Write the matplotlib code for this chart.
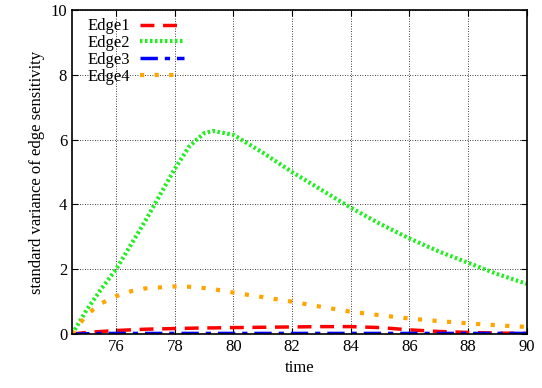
import matplotlib
matplotlib.use("Agg")
import matplotlib.pyplot as plt

plt.rcParams["font.family"] = ["Liberation Serif", "DejaVu Serif"]

# values
time = [74.5, 75, 75.5, 76, 76.5, 77, 78, 78.5, 79, 79.3, 80, 81, 82, 83, 84, 85, 86, 87, 88, 89, 90]
edge1 = [0, 0.05, 0.08, 0.11, 0.13, 0.15, 0.17, 0.18, 0.19, 0.19, 0.20, 0.21, 0.22, 0.23, 0.23, 0.20, 0.13, 0.08, 0.05, 0.03, 0.02]
edge2 = [0, 0.75, 1.4, 2.0, 2.75, 3.5, 5.1, 5.8, 6.2, 6.27, 6.15, 5.6, 5.0, 4.45, 3.9, 3.4, 2.95, 2.55, 2.2, 1.85, 1.55]
edge3 = [0, 0.01, 0.02, 0.02, 0.02, 0.02, 0.02, 0.02, 0.02, 0.02, 0.02, 0.02, 0.02, 0.02, 0.02, 0.02, 0.02, 0.02, 0.02, 0.02, 0.02]
edge4 = [0, 0.6, 0.95, 1.17, 1.32, 1.41, 1.47, 1.46, 1.42, 1.39, 1.28, 1.14, 1.0, 0.84, 0.69, 0.58, 0.48, 0.40, 0.33, 0.27, 0.22]
xticks = [76, 78, 80, 82, 84, 86, 88, 90]
yticks = [0, 2, 4, 6, 8, 10]

fig = plt.figure(figsize=(5.42, 3.88), dpi=100)
ax = fig.add_axes([0.133, 0.139, 0.839, 0.835])

ax.plot(time, edge1, color="#ff0000", lw=2.5, dashes=(4, 2.5), label="Edge1")
ax.plot(time, edge2, color="#22ee22", lw=3, dashes=(0.6, 0.6), label="Edge2")
ax.plot(time, edge3, color="#0000ff", lw=2.5, dashes=(5, 2, 1.5, 2), label="Edge3")
ax.plot(time, edge4, color="#ffa500", lw=3, dashes=(1, 2.5), label="Edge4")

ax.set_xlim(74.5, 90)
ax.set_ylim(0, 10)
ax.set_xticks(xticks)
ax.set_yticks(yticks)
ax.grid(True, color="black", ls=(0, (1, 2)), lw=0.6)
ax.tick_params(direction="in", top=True, right=True, labelsize=12, length=4)
for s in ax.spines.values():
    s.set_linewidth(1.2)

ax.set_xlabel("time", fontsize=12)
ax.set_ylabel("standard variance of edge sensitivity", fontsize=12)

leg = ax.legend(loc="upper left", frameon=False, markerfirst=False, fontsize=12,
                handlelength=2.6, handletextpad=0.6, borderaxespad=0.0,
                labelspacing=0.05, bbox_to_anchor=(0.02, 0.995))

fig.savefig("out.png", facecolor="white")
